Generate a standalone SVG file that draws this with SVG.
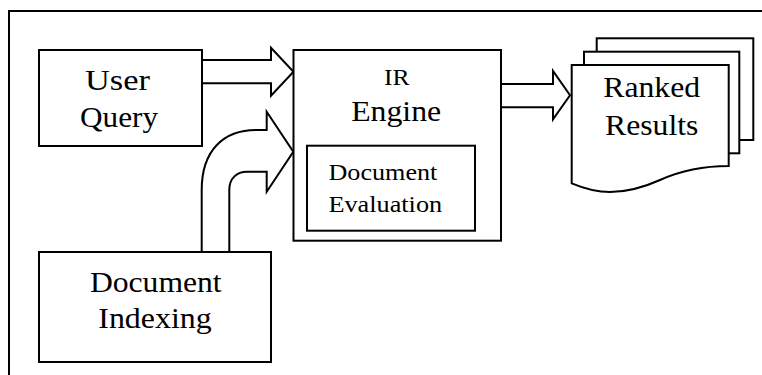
<svg xmlns="http://www.w3.org/2000/svg" width="762" height="375" viewBox="0 0 762 375">
  <style>
    .box { fill: #fff; stroke: #000; stroke-width: 2; }
    .line { fill: none; stroke: #000; stroke-width: 2; }
    .arrow { fill: #fff; stroke: #000; stroke-width: 2; stroke-linejoin: miter; }
    .lbl { font-family: "Liberation Serif", "Times New Roman", serif; fill: #000; text-anchor: middle; }
    .big { font-size: 30px; }
    .mid { font-size: 24px; }
    .sml { font-size: 23px; }
  </style>
  <rect width="762" height="375" fill="#fff"/>

  <!-- outer frame (runs off the right and bottom edges) -->
  <rect class="line" x="9" y="11" width="800" height="420"/>

  <!-- connectors: block arrows -->
  <g id="connectors">
    <path class="arrow" d="M202,60 H271 V47.7 L293.5,71.7 L271,95.7 V83.3 H202"/>
    <path class="arrow" d="M201.7,252 V190 C201.7,150 224,130 256,130 H266.7 V111.7 L293.3,151.7 L266.7,191.7 V171.7 H247 C237,171.7 229.3,178 229.3,190 V252"/>
    <path class="arrow" d="M501,84 H553 V71 L570,95.3 L553,119.3 V107.3 H501"/>
  </g>

  <g id="user-query">
    <rect class="box" x="39" y="50" width="163" height="96"/>
    <text class="lbl big" x="117.5" y="90" textLength="65" lengthAdjust="spacingAndGlyphs">User</text>
    <text class="lbl big" x="119" y="127" textLength="78" lengthAdjust="spacingAndGlyphs">Query</text>
  </g>

  <g id="ir-engine">
    <rect class="box" x="293.5" y="50" width="207.5" height="190.7"/>
    <text class="lbl sml" x="396.8" y="85" textLength="25.6" lengthAdjust="spacingAndGlyphs">IR</text>
    <text class="lbl big" x="396.2" y="120.7" textLength="90" lengthAdjust="spacingAndGlyphs">Engine</text>
    <g id="document-evaluation">
      <rect class="box" x="307" y="145.7" width="168" height="85"/>
      <text class="lbl mid" x="382.9" y="180" textLength="108.8" lengthAdjust="spacingAndGlyphs">Document</text>
      <text class="lbl mid" x="385.3" y="211.7" textLength="113.7" lengthAdjust="spacingAndGlyphs">Evaluation</text>
    </g>
  </g>

  <g id="document-indexing">
    <rect class="box" x="39" y="252" width="232" height="110"/>
    <text class="lbl big" x="155.8" y="291.7" textLength="131.7" lengthAdjust="spacingAndGlyphs">Document</text>
    <text class="lbl big" x="155" y="328.3" textLength="113.4" lengthAdjust="spacingAndGlyphs">Indexing</text>
  </g>

  <g id="ranked-results">
    <rect class="box" x="596.7" y="38.3" width="156.6" height="101.7"/>
    <rect class="box" x="584" y="51.7" width="155.3" height="101.6"/>
    <path class="box" d="M571.7,65 H728.7 V166 C700,166 680,171 660,180 C640,189 625,192 610,192 C595,192 583,188 571.7,183.3 Z"/>
    <text class="lbl big" x="651.7" y="96.7" textLength="96.7" lengthAdjust="spacingAndGlyphs">Ranked</text>
    <text class="lbl big" x="651.7" y="135" textLength="93.3" lengthAdjust="spacingAndGlyphs">Results</text>
  </g>
</svg>
